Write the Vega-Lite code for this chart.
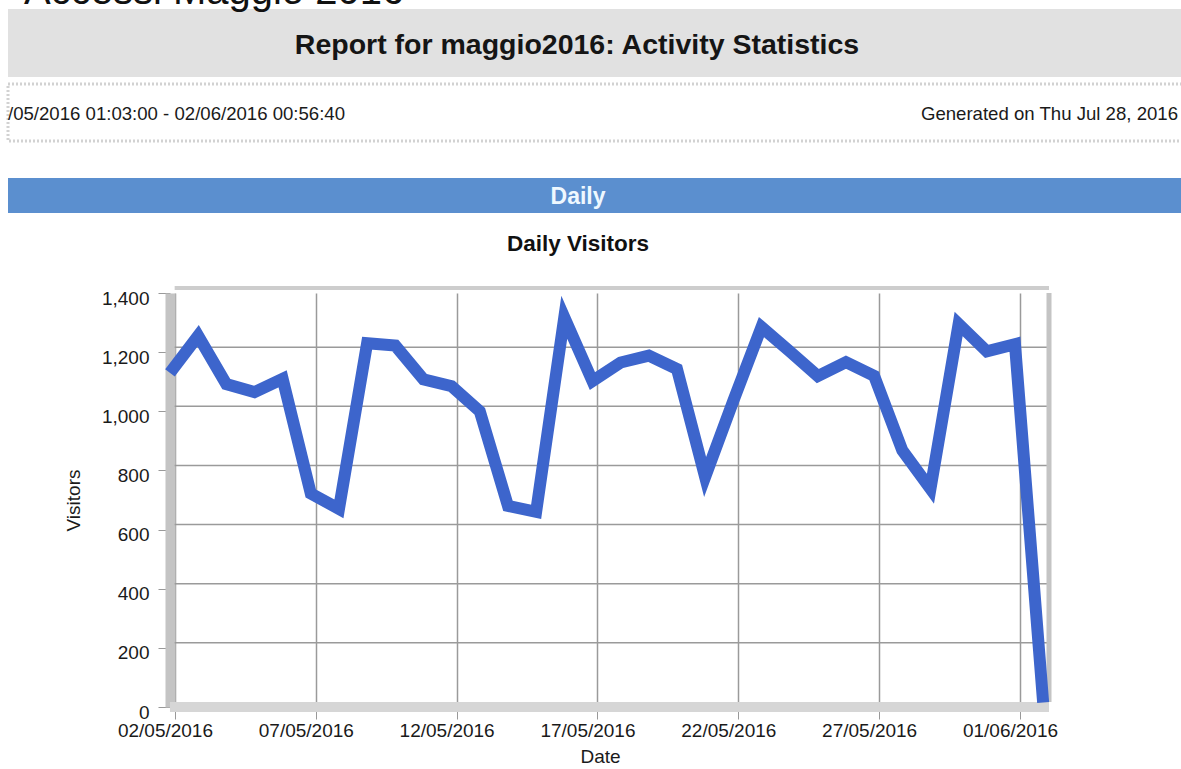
{
  "$schema": "https://vega.github.io/schema/vega-lite/v6.json",
  "background": "white",
  "padding": {"left": 6, "top": -28, "right": 0, "bottom": 0},
  "config": {
    "font": "Liberation Sans",
    "view": {"stroke": null},
    "axis": {"labelColor": "#1a1a1a", "titleColor": "#1a1a1a", "labelFont": "Liberation Sans", "titleFont": "Liberation Sans", "titleFontWeight": "normal"}
  },
  "datasets": {
    "daily": [
      {"date": "2016-05-02", "visitors": 1130},
      {"date": "2016-05-03", "visitors": 1255},
      {"date": "2016-05-04", "visitors": 1092},
      {"date": "2016-05-05", "visitors": 1065},
      {"date": "2016-05-06", "visitors": 1110},
      {"date": "2016-05-07", "visitors": 722},
      {"date": "2016-05-08", "visitors": 670},
      {"date": "2016-05-09", "visitors": 1230},
      {"date": "2016-05-10", "visitors": 1222},
      {"date": "2016-05-11", "visitors": 1108},
      {"date": "2016-05-12", "visitors": 1085},
      {"date": "2016-05-13", "visitors": 1000},
      {"date": "2016-05-14", "visitors": 680},
      {"date": "2016-05-15", "visitors": 660},
      {"date": "2016-05-16", "visitors": 1318},
      {"date": "2016-05-17", "visitors": 1102},
      {"date": "2016-05-18", "visitors": 1165},
      {"date": "2016-05-19", "visitors": 1188},
      {"date": "2016-05-20", "visitors": 1143},
      {"date": "2016-05-21", "visitors": 778},
      {"date": "2016-05-22", "visitors": 1035},
      {"date": "2016-05-23", "visitors": 1285},
      {"date": "2016-05-24", "visitors": 1203},
      {"date": "2016-05-25", "visitors": 1119},
      {"date": "2016-05-26", "visitors": 1166},
      {"date": "2016-05-27", "visitors": 1120},
      {"date": "2016-05-28", "visitors": 868},
      {"date": "2016-05-29", "visitors": 738},
      {"date": "2016-05-30", "visitors": 1295},
      {"date": "2016-05-31", "visitors": 1203},
      {"date": "2016-06-01", "visitors": 1227},
      {"date": "2016-06-02", "visitors": 15}
    ]
  },
  "spacing": 5,
  "vconcat": [
    {
      "title": {"text": "Accessi Maggio 2016", "anchor": "start", "fontSize": 40, "fontWeight": "normal", "offset": -3, "dx": 16, "color": "#111111"},
      "width": 1175,
      "height": 68,
      "view": {"fill": "#e1e1e1", "stroke": null},
      "data": {"values": [{"t": "Report for maggio2016: Activity Statistics"}]},
      "mark": {"type": "text", "fontSize": 28.5, "fontWeight": "bold", "dx": -18.5, "dy": 2, "color": "#151515"},
      "encoding": {"text": {"field": "t", "type": "nominal"}}
    },
    {
      "width": 1175,
      "height": 57,
      "view": {"stroke": "#d2d2d2", "strokeWidth": 3, "strokeDash": [2, 2]},
      "data": {"values": [
        {"side": "left", "t": "/05/2016 01:03:00 - 02/06/2016 00:56:40"},
        {"side": "right", "t": "Generated on Thu Jul 28, 2016"}
      ]},
      "mark": {"type": "text", "fontSize": 18.6, "dy": 1, "color": "#1a1a1a",
        "align": {"expr": "datum.side === 'right' ? 'right' : 'left'"},
        "dx": {"expr": "datum.side === 'right' ? -5 : 0"}},
      "encoding": {
        "x": {"field": "side", "type": "nominal", "scale": {"type": "point", "padding": 0},
          "axis": {"orient": "bottom", "offset": 30, "domain": true, "domainColor": "white", "domainWidth": 1, "ticks": false, "labels": false, "grid": false, "title": null}},
        "text": {"field": "t", "type": "nominal"}
      }
    },
    {
      "width": 1175,
      "height": 35,
      "view": {"fill": "#5b8fcf", "stroke": null},
      "data": {"values": [{"t": "Daily"}]},
      "mark": {"type": "text", "fontSize": 23, "fontWeight": "bold", "color": "#eef8ff", "dx": -17.5, "dy": 1},
      "encoding": {
        "x": {"field": "t", "type": "nominal", "scale": {"type": "point", "padding": 0.5},
          "axis": {"orient": "bottom", "offset": 14, "domain": true, "domainColor": "white", "domainWidth": 1, "ticks": false, "labels": false, "grid": false, "title": null}},
        "text": {"field": "t", "type": "nominal"}
      }
    },
    {
      "title": {"text": "Daily Visitors", "fontSize": 22.5, "fontWeight": "bold", "anchor": "middle", "frame": "group", "dx": 49.5, "offset": 31, "color": "#111111"},
      "width": 1041,
      "height": 414,
      "layer": [
        {
          "data": {"values": [{"g": 200}, {"g": 400}, {"g": 600}, {"g": 800}, {"g": 1000}, {"g": 1200}]},
          "mark": {"type": "rule", "color": "#9a9a9a", "strokeWidth": 1.5, "yOffset": -5},
          "encoding": {
            "y": {"field": "g", "type": "quantitative"},
            "x": {"datum": {"year": 2016, "month": 5, "date": 2, "hours": 4, "utc": true}, "type": "temporal"},
            "x2": {"datum": {"year": 2016, "month": 6, "date": 2, "hours": 5, "utc": true}}
          }
        },
        {
          "data": {"values": [{"k": 1}]},
          "mark": {"type": "rule", "color": "#d6d6d6", "strokeWidth": 10},
          "encoding": {
            "y": {"datum": 0, "type": "quantitative"},
            "x": {"datum": {"year": 2016, "month": 5, "date": 2, "utc": true}, "type": "temporal"},
            "x2": {"datum": {"year": 2016, "month": 6, "date": 2, "hours": 5, "utc": true}}
          }
        },
        {
          "data": {"values": [{"k": 1}]},
          "mark": {"type": "rule", "color": "#cdcdcd", "strokeWidth": 4, "yOffset": -5},
          "encoding": {
            "y": {"datum": 1400, "type": "quantitative"},
            "x": {"datum": {"year": 2016, "month": 5, "date": 2, "hours": 4, "utc": true}, "type": "temporal"},
            "x2": {"datum": {"year": 2016, "month": 6, "date": 2, "hours": 5, "utc": true}}
          }
        },
        {
          "data": {"values": [{"k": 1}]},
          "mark": {"type": "rule", "color": "#c4c4c4", "strokeWidth": 5, "yOffset": -5},
          "encoding": {
            "x": {"datum": {"year": 2016, "month": 6, "date": 2, "hours": 5, "utc": true}, "type": "temporal"},
            "y": {"datum": 0, "type": "quantitative"},
            "y2": {"datum": 1400}
          }
        },
        {
          "data": {"name": "daily"},
          "mark": {"type": "line", "color": "#3d65cc", "strokeWidth": 12, "strokeJoin": "miter"},
          "encoding": {
            "x": {
              "field": "date", "type": "temporal",
              "scale": {"type": "utc", "domain": [{"year": 2016, "month": 4, "date": 26, "hours": 6, "utc": true}, {"year": 2016, "month": 6, "date": 2, "hours": 5, "utc": true}]},
              "axis": {"orient": "bottom", "title": "Date", "titleX": 592, "format": "%d/%m/%Y", "labelFontSize": 19, "titleFontSize": 19, "tickOffset": 5, "labelOffset": -10, "tickSize": 12, "tickColor": "#999999", "domain": false, "labelPadding": 2, "labelFlush": false, "labelOverlap": false, "grid": true, "gridColor": "#9a9a9a", "gridWidth": 1.5, "titlePadding": 7,
                "values": [{"year": 2016, "month": 5, "date": 2, "utc": true}, {"year": 2016, "month": 5, "date": 7, "utc": true}, {"year": 2016, "month": 5, "date": 12, "utc": true}, {"year": 2016, "month": 5, "date": 17, "utc": true}, {"year": 2016, "month": 5, "date": 22, "utc": true}, {"year": 2016, "month": 5, "date": 27, "utc": true}, {"year": 2016, "month": 6, "date": 1, "utc": true}]}
            },
            "y": {
              "field": "visitors", "type": "quantitative",
              "scale": {"domain": [0, 1400], "nice": false},
              "axis": {"orient": "left", "offset": -162, "title": "Visitors", "format": ",d", "labelFontSize": 19, "titleFontSize": 19, "labelOffset": 5, "tickSize": 12, "tickColor": "#999999", "domainColor": "#c4c4c4", "domainWidth": 10, "labelPadding": 9, "grid": false, "titlePadding": 18, "values": [0, 200, 400, 600, 800, 1000, 1200, 1400]}
            }
          }
        }
      ]
    }
  ]
}
